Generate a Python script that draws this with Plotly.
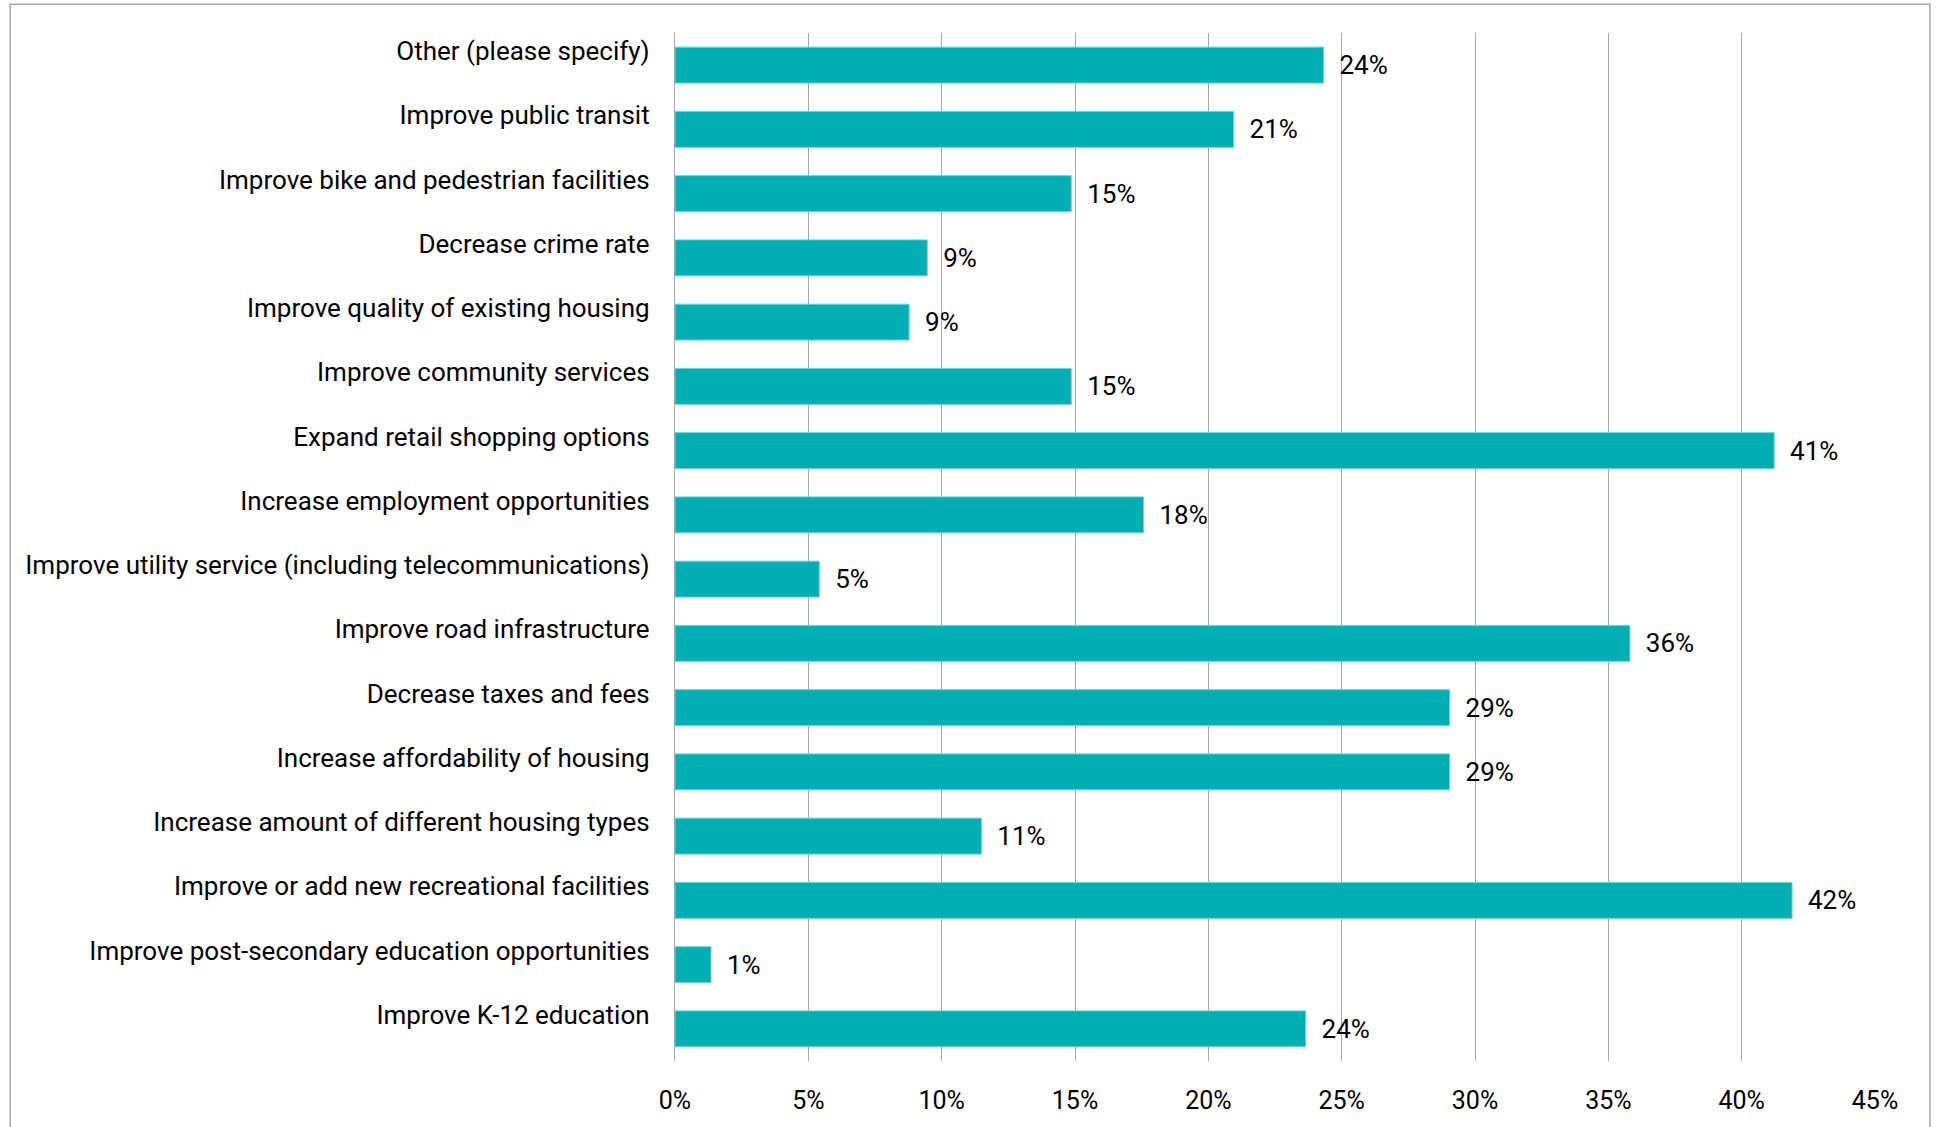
import plotly.graph_objects as go

# Survey options, listed bottom-to-top as they appear on the chart
categories = [
    "Improve K-12 education",
    "Improve post-secondary education opportunities",
    "Improve or add new recreational facilities",
    "Increase amount of different housing types",
    "Increase affordability of housing",
    "Decrease taxes and fees",
    "Improve road infrastructure",
    "Improve utility service (including telecommunications)",
    "Increase employment opportunities",
    "Expand retail shopping options",
    "Improve community services",
    "Improve quality of existing housing",
    "Decrease crime rate",
    "Improve bike and pedestrian facilities",
    "Improve public transit",
    "Other (please specify)",
]

# Share of respondents choosing each option
shares = [
    0.2365, 0.0135, 0.4189, 0.1149, 0.2905, 0.2905, 0.3581, 0.0541,
    0.1757, 0.4122, 0.1486, 0.0878, 0.0946, 0.1486, 0.2095, 0.2432,
]

x_ticks = [0, 0.05, 0.10, 0.15, 0.20, 0.25, 0.30, 0.35, 0.40, 0.45]

FONT = "Roboto"
TEAL = "#00AEB3"
GRID = "#A6A6A6"

fig = go.Figure(
    go.Bar(
        x=shares,
        y=categories,
        orientation="h",
        marker=dict(color=TEAL, line=dict(color="#6FD3D6", width=1)),
        texttemplate="\u00a0\u00a0%{x:.0%}",
        textposition="outside",
        textfont=dict(family=FONT, size=26, color="#000000"),
        cliponaxis=False,
        hoverinfo="skip",
    )
)

fig.update_layout(
    width=1939,
    height=1127,
    margin=dict(l=675, r=64, t=33, b=63),
    paper_bgcolor="#FFFFFF",
    plot_bgcolor="#FFFFFF",
    bargap=0.44,
    showlegend=False,
    font=dict(family=FONT, size=25, color="#000000"),
    shapes=[
        dict(
            type="rect",
            xref="paper",
            yref="paper",
            x0=-0.554,
            x1=1.0458,
            y0=-0.08,
            y1=1.028,
            line=dict(color="#A6A6A6", width=1.5),
            fillcolor="rgba(0,0,0,0)",
            layer="below",
        )
    ],
)

fig.update_xaxes(
    range=[0, 0.45],
    tickvals=x_ticks,
    tickformat=".0%",
    showgrid=True,
    gridcolor=GRID,
    gridwidth=1.3,
    zeroline=False,
    showline=False,
    ticks="outside",
    ticklen=17,
    tickcolor="rgba(0,0,0,0)",
    tickfont=dict(family=FONT, size=25, color="#000000"),
)

fig.update_yaxes(
    showgrid=False,
    showline=True,
    linecolor=GRID,
    linewidth=1.3,
    ticks="outside",
    ticklen=19,
    tickcolor="rgba(0,0,0,0)",
    ticklabelshift=-14,
    tickfont=dict(family=FONT, size=26, color="#000000"),
)

fig.write_html("out.html")
